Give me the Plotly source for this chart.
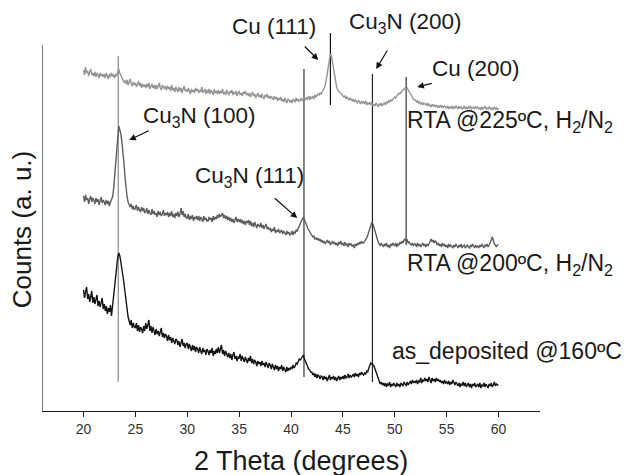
import numpy as np
import plotly.graph_objects as go

# 2-theta sampling grid (degrees), 0.1 degree step
two_theta = np.round(np.arange(20.0, 60.0001, 0.1), 1)

# RTA @225ºC, H2/N2 (top trace, arbitrary units) - one row per degree
rta225 = [
    341, 336, 344, 338, 340, 335, 339, 342, 336, 338,
    335, 339, 334, 338, 336, 333, 338, 335, 337, 334,
    337, 333, 338, 335, 332, 337, 334, 338, 335, 336,
    333, 337, 335, 339, 342, 338, 335, 333, 331, 329,
    330, 327, 331, 326, 329, 332, 327, 325, 329, 326,
    328, 324, 327, 330, 325, 328, 323, 327, 325, 326,
    323, 327, 324, 328, 322, 325, 327, 323, 326, 322,
    326, 322, 325, 328, 323, 321, 326, 324, 322, 325,
    321, 325, 322, 324, 320, 326, 321, 323, 319, 324,
    322, 319, 324, 320, 323, 318, 322, 325, 320, 321,
    319, 323, 320, 317, 322, 319, 321, 318, 323, 320,
    322, 318, 321, 319, 324, 318, 320, 322, 317, 321,
    318, 322, 317, 321, 319, 316, 322, 318, 320, 317,
    321, 317, 320, 318, 322, 317, 319, 316, 321, 318,
    316, 320, 318, 321, 316, 319, 317, 320, 315, 318,
    320, 316, 318, 315, 319, 317, 320, 316, 318, 315,
    318, 314, 317, 319, 315, 317, 313, 316, 318, 314,
    316, 313, 317, 314, 312, 316, 314, 317, 313, 315,
    312, 315, 313, 311, 315, 312, 314, 310, 313, 311,
    314, 310, 312, 309, 313, 311, 308, 312, 310, 309,
    311, 308, 312, 310, 309, 313, 310, 312, 309, 311,
    313, 310, 312, 314, 311, 313, 312, 315, 311, 314,
    313, 315, 312, 316, 314, 315, 317, 316, 318, 317,
    319, 320, 323, 326, 331, 337, 345, 352, 357, 355,
    348, 340, 333, 328, 324, 321, 320, 318, 317, 316,
    316, 314, 315, 312, 314, 313, 311, 313, 312, 310,
    312, 309, 311, 310, 308, 311, 309, 307, 310, 308,
    309, 307, 310, 306, 308, 307, 309, 306, 308, 305,
    307, 305, 308, 306, 304, 307, 306, 308, 305, 307,
    308, 306, 309, 308, 310, 309, 311, 310, 312, 313,
    314, 313, 315, 316, 318, 317, 319, 320, 321, 322,
    323, 322, 323, 321, 319, 317, 315, 314, 312, 311,
    311, 309, 310, 308, 309, 307, 308, 306, 308, 307,
    306, 308, 305, 307, 306, 304, 307, 305, 306, 304,
    306, 304, 305, 303, 306, 304, 305, 303, 305, 304,
    303, 305, 302, 304, 303, 305, 302, 304, 303, 305,
    304, 302, 305, 303, 304, 302, 303, 305, 302, 304,
    302, 304, 303, 305, 302, 303, 304, 302, 304, 303,
    304, 302, 303, 301, 304, 302, 303, 305, 302, 303,
    302, 304, 303, 301, 303, 302, 304, 302, 303, 301,
    303,
]

# RTA @200ºC, H2/N2 (middle trace)
rta200 = [
    215, 209, 216, 211, 213, 207, 212, 215, 209, 213,
    211, 207, 213, 209, 212, 206, 210, 214, 208, 211,
    209, 206, 211, 207, 210, 205, 209, 212, 214, 222,
    234, 246, 258, 272, 285, 281, 277, 269, 261, 248,
    234, 222, 214, 209, 206, 204, 207, 202, 205, 201,
    203, 206, 200, 204, 201, 199, 204, 200, 203, 198,
    199, 203, 197, 201, 198, 196, 202, 197, 200, 196,
    198, 194, 200, 196, 199, 195, 197, 201, 195, 198,
    196, 199, 194, 198, 195, 200, 194, 197, 193, 198,
    195, 199, 194, 197, 203, 196, 200, 194, 197, 193,
    193, 197, 191, 195, 192, 196, 190, 194, 192, 195,
    191, 195, 190, 194, 192, 189, 195, 191, 193, 190,
    190, 194, 191, 193, 189, 195, 191, 194, 192, 196,
    193, 197, 194, 196, 198, 193, 196, 192, 195, 191,
    194, 190, 193, 189, 192, 188, 191, 194, 189, 192,
    189, 192, 188, 191, 187, 190, 186, 190, 188, 191,
    186, 190, 185, 188, 184, 189, 186, 183, 187, 185,
    184, 188, 183, 186, 182, 185, 187, 182, 184, 181,
    183, 179, 182, 180, 184, 178, 181, 179, 182, 178,
    179, 181, 177, 180, 178, 176, 180, 177, 179, 176,
    177, 180, 176, 179, 178, 181, 180, 183, 185, 187,
    190, 192, 194, 191, 189, 186, 183, 181, 179, 177,
    176, 174, 175, 172, 173, 171, 173, 170, 172, 169,
    171, 168, 170, 167, 169, 171, 168, 170, 166, 169,
    170, 167, 169, 166, 168, 165, 169, 167, 170, 166,
    168, 165, 169, 166, 167, 164, 168, 166, 167, 165,
    166, 163, 167, 165, 168, 166, 169, 167, 170, 168,
    168, 170, 171, 173, 176, 179, 183, 186, 189, 187,
    183, 180, 176, 172, 169, 167, 165, 168, 166, 164,
    167, 165, 168, 164, 166, 163, 167, 165, 168, 166,
    165, 168, 164, 167, 166, 169, 167, 170, 168, 171,
    172, 170, 171, 168, 169, 167, 166, 168, 165, 167,
    167, 164, 168, 165, 167, 164, 166, 168, 165, 167,
    164, 167, 165, 168, 170, 172, 169, 171, 168, 170,
    169, 166, 168, 165, 167, 164, 168, 165, 167, 164,
    166, 163, 167, 164, 166, 165, 163, 166, 164, 167,
    165, 163, 166, 164, 167, 163, 165, 166, 163, 165,
    166, 164, 163, 166, 164, 167, 165, 163, 166, 164,
    165, 163, 166, 164, 167, 165, 163, 166, 165, 167,
    164, 166, 168, 171, 174, 169, 167, 166, 164, 166,
    166,
]

# as_deposited @160ºC (bottom trace)
as_dep = [
    121, 113, 119, 124, 112, 117, 109, 115, 120, 108,
    114, 107, 112, 116, 105, 110, 104, 109, 113, 102,
    107, 100, 105, 97, 103, 99, 106, 95, 106, 114,
    126, 137, 146, 154, 158, 155, 149, 143, 136, 128,
    119, 108, 99, 94, 90, 86, 91, 83, 88, 84,
    83, 88, 80, 86, 79, 84, 82, 78, 85, 80,
    88, 82, 86, 91, 80, 85, 78, 84, 80, 76,
    82, 77, 80, 75, 79, 83, 74, 78, 73, 77,
    75, 70, 76, 71, 74, 68, 73, 70, 67, 72,
    71, 66, 70, 64, 69, 72, 65, 68, 63, 67,
    68, 62, 67, 64, 60, 66, 61, 65, 59, 64,
    62, 58, 64, 60, 57, 63, 59, 61, 56, 62,
    60, 56, 61, 58, 63, 55, 60, 57, 62, 58,
    64, 58, 62, 66, 57, 61, 55, 60, 57, 54,
    58, 53, 57, 51, 56, 59, 52, 55, 50, 54,
    53, 57, 50, 55, 52, 49, 54, 51, 48, 53,
    50, 55, 48, 52, 47, 51, 49, 45, 50, 47,
    49, 45, 50, 46, 48, 44, 49, 46, 43, 48,
    46, 42, 47, 44, 41, 46, 42, 45, 40, 44,
    42, 46, 40, 44, 41, 39, 44, 40, 43, 41,
    44, 42, 46, 43, 45, 48, 47, 50, 52, 51,
    53, 55, 56, 52, 49, 46, 45, 42, 41, 39,
    39, 36, 38, 34, 37, 33, 36, 35, 32, 35,
    34, 31, 35, 32, 34, 30, 33, 36, 31, 34,
    32, 35, 31, 34, 30, 33, 35, 31, 34, 32,
    35, 32, 36, 33, 34, 37, 33, 36, 34, 35,
    37, 34, 38, 35, 37, 34, 38, 36, 39, 37,
    36, 38, 37, 40, 39, 43, 45, 48, 47, 46,
    45, 42, 39, 34, 31, 29, 27, 29, 26, 28,
    25, 28, 24, 27, 26, 29, 24, 27, 25, 28,
    26, 24, 28, 25, 27, 24, 28, 26, 25, 29,
    27, 25, 29, 26, 28, 30, 27, 31, 28, 30,
    28, 31, 27, 30, 29, 33, 28, 31, 30, 33,
    30, 32, 29, 34, 31, 28, 33, 30, 32, 29,
    33, 30, 32, 29, 31, 28, 30, 27, 31, 28,
    29, 27, 30, 26, 29, 27, 31, 28, 26, 29,
    27, 25, 28, 24, 27, 26, 29, 25, 28, 24,
    26, 28, 24, 27, 23, 27, 25, 28, 24, 26,
    27, 24, 28, 23, 26, 25, 28, 24, 27, 25,
    23, 27, 25, 28, 24, 26, 29, 25, 27, 26,
    26,
]

# Reference peak lines: position and vertical extent
ref_pos = [23.35, 41.25, 43.8, 47.85, 51.1]
ref_low = [29, 34, 306, 29, 166]
ref_high = [355, 342, 378, 337, 334]
ref_colors = ["#8a8a8a", "#333333", "#111111", "#222222", "#333333"]

# Peak labels: text, text position, arrow tail, arrow head
peak_labels = ["Cu (111)", "Cu<sub>3</sub>N (200)", "Cu (200)",
               "Cu<sub>3</sub>N (100)", "Cu<sub>3</sub>N (111)"]
label_x = [38.39, 51.02, 57.87, 31.16, 35.98]
label_y = [385, 388, 343, 294, 234]
arrow_tail_x = [41.18, 49.37, 53.71, 26.43, 38.29]
arrow_tail_y = [366, 362, 328, 281, 214]
arrow_head_x = [42.63, 48.21, 52.17, 24.41, 40.60]
arrow_head_y = [351, 342, 324, 271, 193]

# Sample labels
sample_labels = ["RTA @225ºC, H<sub>2</sub>/N<sub>2</sub>",
                 "RTA @200ºC, H<sub>2</sub>/N<sub>2</sub>",
                 "as_deposited @160ºC"]
sample_x = [51.02, 51.02, 49.58]
sample_y = [290, 147, 60]

x_ticks = [20, 25, 30, 35, 40, 45, 50, 55, 60]

assert len(rta225) == len(two_theta) == len(rta200) == len(as_dep)

FONT = "Liberation Sans, Arial, Helvetica, sans-serif"

fig = go.Figure()
for xs, lo, hi, col in zip(ref_pos, ref_low, ref_high, ref_colors):
    fig.add_trace(go.Scatter(x=[xs, xs], y=[lo, hi], mode="lines",
                             line=dict(color=col, width=1.2),
                             hoverinfo="skip", showlegend=False))

for ys, col, w in [(rta225, "#949494", 1.4), (rta200, "#5e5e5e", 1.4),
                   (as_dep, "#141414", 1.4)]:
    fig.add_trace(go.Scatter(x=two_theta, y=ys, mode="lines",
                             line=dict(color=col, width=w),
                             showlegend=False))

annotations = []
for t, lx, ly in zip(peak_labels, label_x, label_y):
    annotations.append(dict(x=lx, y=ly, xref="x", yref="y", text=t,
                            showarrow=False, xanchor="center", yanchor="middle",
                            font=dict(size=22.5, color="#1a1a1a", family=FONT)))
for tx, ty, hx, hy in zip(arrow_tail_x, arrow_tail_y, arrow_head_x, arrow_head_y):
    annotations.append(dict(x=hx, y=hy, ax=tx, ay=ty, xref="x", yref="y",
                            axref="x", ayref="y", text="", showarrow=True,
                            arrowhead=2, arrowsize=1.1, arrowwidth=1.2,
                            arrowcolor="#111111", standoff=0, startstandoff=0))
for t, sx, sy in zip(sample_labels, sample_x, sample_y):
    annotations.append(dict(x=sx, y=sy, xref="x", yref="y", text=t,
                            showarrow=False, xanchor="left", yanchor="middle",
                            font=dict(size=23, color="#1a1a1a", family=FONT)))

# axis titles
annotations.append(dict(x=0.521, y=-0.128, xref="paper", yref="paper",
                        text="2 Theta (degrees)", showarrow=False,
                        xanchor="center", yanchor="middle",
                        font=dict(size=27, color="#1a1a1a", family=FONT)))
annotations.append(dict(x=-0.04, y=0.465, xref="paper", yref="paper",
                        text="Counts (a. u.)", showarrow=False, textangle=-90,
                        xanchor="center", yanchor="middle",
                        font=dict(size=26, color="#1a1a1a", family=FONT)))

fig.update_layout(
    width=624, height=475,
    margin=dict(l=42, r=84, t=20, b=64),
    paper_bgcolor="white", plot_bgcolor="white",
    showlegend=False,
    annotations=annotations,
    shapes=[dict(type="line", xref="x", yref="y", x0=16, x1=16, y0=0, y1=366,
                 line=dict(color="#1a1a1a", width=1.2))],
    xaxis=dict(range=[16, 64], showgrid=False, zeroline=False,
               showline=True, linecolor="#1a1a1a", linewidth=1.2,
               tickmode="array", tickvals=x_ticks,
               ticks="outside", ticklen=5, tickwidth=1, tickcolor="#1a1a1a",
               tickfont=dict(size=14, color="#333333", family=FONT)),
    yaxis=dict(range=[0, 391], showgrid=False, zeroline=False,
               showline=False, showticklabels=False, ticks=""),
)

fig.write_html("out.html")
